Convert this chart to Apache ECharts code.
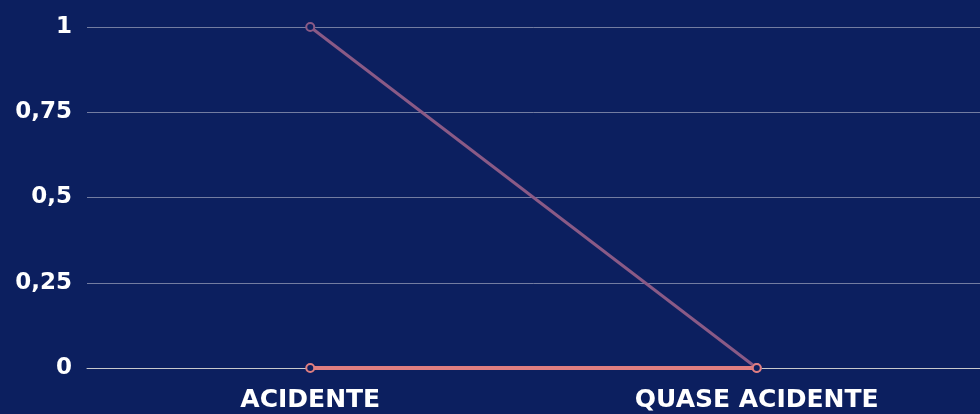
<!DOCTYPE html>
<html>
<head>
<meta charset="utf-8">
<script src="https://cdn.jsdelivr.net/npm/echarts@6/dist/echarts.min.js"></script>
<style>
  html, body { margin: 0; padding: 0; background: #0c1f5f; }
  #chart { width: 980px; height: 414px; }
</style>
</head>
<body>
<div id="chart"></div>
<script>
const categories = ['ACIDENTE', 'QUASE ACIDENTE'];
const seriesA = [1, 0];
const seriesB = [0, 0];
const yTicks = [0, 0.25, 0.5, 0.75, 1];

const mychart = echarts.init(document.getElementById('chart'));
mychart.setOption({
  backgroundColor: '#0c1f5f',
  grid: { left: 87, right: -5, top: 27, bottom: 46 },
  xAxis: {
    type: 'category',
    data: categories,
    boundaryGap: true,
    axisLine: { lineStyle: { color: '#c8c8cc', width: 1 } },
    axisTick: { show: false },
    axisLabel: {
      color: '#ffffff', fontSize: 25, fontWeight: 'bold',
      fontFamily: 'DejaVu Sans', margin: 20
    }
  },
  yAxis: {
    type: 'value',
    min: 0, max: 1, interval: 0.25,
    axisLine: { show: false },
    axisTick: { show: false },
    splitLine: { lineStyle: { color: 'rgba(200,200,215,0.55)', width: 1 } },
    axisLabel: {
      color: '#ffffff', fontSize: 23, fontWeight: 'bold',
      fontFamily: 'DejaVu Sans', margin: 15, padding: [4, 0, 0, 0],
      formatter: v => yTicks.includes(v) ? String(v).replace('.', ',') : ''
    }
  },
  series: [
    {
      type: 'line', data: seriesA,
      symbol: 'circle', symbolSize: 8,
      lineStyle: { color: '#8a5a86', width: 3 },
      itemStyle: { color: '#0c1f5f', borderColor: '#8a5a86', borderWidth: 2 }
    },
    {
      type: 'line', data: seriesB,
      symbol: 'circle', symbolSize: 8,
      lineStyle: { color: '#e07e80', width: 4 },
      itemStyle: { color: '#0c1f5f', borderColor: '#e07e80', borderWidth: 2 }
    }
  ]
});
</script>
</body>
</html>
